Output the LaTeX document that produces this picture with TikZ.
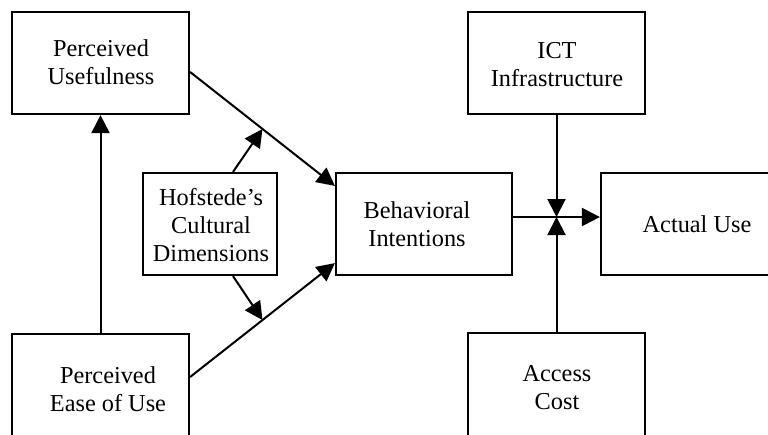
\documentclass[tikz,border=0pt]{standalone}
\usepackage{fontspec}
\setmainfont{Liberation Serif}
\usetikzlibrary{arrows.meta,calc}
\begin{document}
\begin{tikzpicture}[x=1pt,y=-1pt,
  box/.style={draw,line width=2.2pt,inner sep=0pt},
  lbl/.style={align=center,font=\fontsize{24.3}{28}\selectfont,inner sep=0pt},
  conn/.style={line width=2pt,-{Triangle[length=18pt,width=18pt]}}]
\useasboundingbox (0,0) rectangle (768,434);
\clip (0,0) rectangle (768,434);
% boxes
\node[box,minimum width=177pt,minimum height=102pt] (pu) at (100.5,63) {};
\node[box,minimum width=177pt,minimum height=110pt] (peou) at (100.5,389) {};
\node[box,minimum width=134pt,minimum height=102pt] (hof) at (210,224) {};
\node[box,minimum width=176pt,minimum height=102pt] (bi) at (424,224) {};
\node[box,minimum width=192pt,minimum height=102pt] (au) at (697,224) {};
\node[box,minimum width=177pt,minimum height=102pt] (ict) at (556.5,63) {};
\node[box,minimum width=177pt,minimum height=110pt] (ac) at (556.5,388) {};
% texts
\node[lbl] (pu-t) at (101,62) {Perceived\\Usefulness};
\node[lbl] (peou-t) at (108,389) {Perceived\\Ease of Use};
\node[lbl] (hof-t) at (211,225) {Hofstede’s\\Cultural\\Dimensions};
\node[lbl] (bi-t) at (417,224) {Behavioral\\Intentions};
\node[lbl] (au-t) at (697,224) {Actual Use};
\node[lbl] (ict-t) at (557,65) {ICT\\Infrastructure};
\node[lbl] (ac-t) at (557,388) {Access\\Cost};
% connectors
\coordinate (a1) at ($(pu.east)+(0,9)$);
\coordinate (b1) at ($(bi.north west)+(0,14)$);
\coordinate (a2) at ($(peou.east)+(0,-12)$);
\coordinate (b2) at ($(bi.south west)+(0,-13)$);
\draw[conn] (a1) -- coordinate[pos=0.5] (m1) (b1);
\draw[conn] (a2) -- coordinate[pos=0.5] (m2) (b2);
\draw[conn] ($(hof.north)+(23,0)$) -- (m1);
\draw[conn] ($(hof.south)+(23,0)$) -- (m2);
\draw[conn] (peou.north) -- (pu.south);
\coordinate (bo) at ($(bi.east)+(0,-7)$);
\coordinate (j) at (ict.south |- bo);
\draw[conn] (bo) -- (au.west |- bo);
\draw[conn] (ict.south) -- (j);
\draw[conn] (ac.north) -- (j);
\end{tikzpicture}
\end{document}
